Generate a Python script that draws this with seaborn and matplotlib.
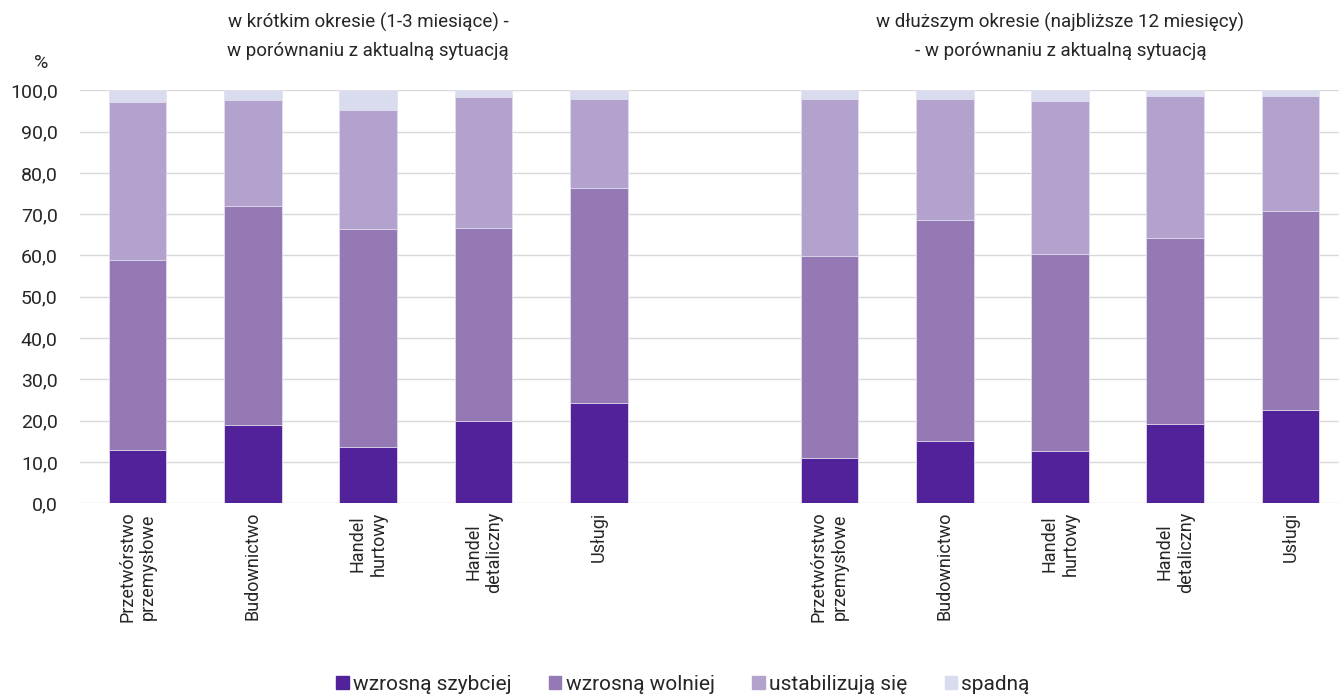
import numpy as np
import pandas as pd
import matplotlib
matplotlib.use("Agg")
import matplotlib.pyplot as plt
import matplotlib.patches as mpatches
import seaborn as sns

# kategorie (krótki okres, potem dłuższy okres)
kategorie = ["Przetwórstwo\nprzemysłowe", "Budownictwo", "Handel\nhurtowy",
             "Handel\ndetaliczny", "Usługi"]
serie = ["wzrosną szybciej", "wzrosną wolniej", "ustabilizują się", "spadną"]

# udział (%) - krótki okres
krotki_szybciej = [12.8, 19.0, 13.6, 19.9, 24.3]
krotki_wolniej = [46.0, 52.9, 52.7, 46.7, 52.0]
krotki_stabil = [38.4, 25.7, 28.9, 31.8, 21.5]
krotki_spadna = [2.8, 2.4, 4.8, 1.6, 2.2]

# udział (%) - dłuższy okres
dluzszy_szybciej = [11.0, 15.1, 12.7, 19.2, 22.5]
dluzszy_wolniej = [48.8, 53.4, 47.6, 45.0, 48.2]
dluzszy_stabil = [38.2, 29.3, 37.0, 34.4, 28.0]
dluzszy_spadna = [2.0, 2.2, 2.7, 1.4, 1.3]

kolory = ["#51229a", "#9579b5", "#b3a2ce", "#d9dbef"]

tytul_k = "w krótkim okresie (1-3 miesiące) -\nw porównaniu z aktualną sytuacją"
tytul_d = "w dłuższym okresie (najbliższe 12 miesięcy)\n- w porównaniu z aktualną sytuacją"

sns.set_theme(style="white")
plt.rcParams['font.family'] = ['Roboto', 'DejaVu Sans']

klucze = ["k%d" % i for i in range(5)] + ["gap"] + ["d%d" % i for i in range(5)]
etykiety = kategorie + [""] + kategorie

warstwy_k = np.array([krotki_szybciej, krotki_wolniej, krotki_stabil, krotki_spadna])
warstwy_d = np.array([dluzszy_szybciej, dluzszy_wolniej, dluzszy_stabil, dluzszy_spadna])
cum_k = np.cumsum(warstwy_k, axis=0)
cum_d = np.cumsum(warstwy_d, axis=0)

rows = []
for j in range(4):
    for i in range(5):
        rows.append({"key": "k%d" % i, "seria": serie[j], "cum": cum_k[j, i]})
        rows.append({"key": "d%d" % i, "seria": serie[j], "cum": cum_d[j, i]})
df = pd.DataFrame(rows)

fig = plt.figure(figsize=(13.39, 6.95), dpi=100)
ax = fig.add_axes([0.0597, 0.276, 0.9403, 0.594])

# rysujemy od góry stosu w dół
for j in range(3, -1, -1):
    sub = df[df["seria"] == serie[j]]
    sns.barplot(data=sub, x="key", y="cum", order=klucze, color=kolory[j],
                width=0.5, edgecolor="#e4e0ee", linewidth=0.6, ax=ax,
                saturation=1, zorder=2)

ax.set_ylim(0, 100)
ax.set_xlim(-0.5, 10.42)
ax.set_yticks(np.arange(0, 101, 10))
ax.set_yticklabels([("%.1f" % v).replace(".", ",") for v in np.arange(0, 101, 10)],
                   fontsize=14)
ax.set_xticks(range(len(klucze)))
ax.set_xticklabels(etykiety, rotation=90, fontsize=13, ha="center", va="top",
                   multialignment="center")
ax.tick_params(axis="y", length=0, pad=16)
ax.tick_params(axis="x", length=0, pad=6)
ax.set_xlabel("")
ax.set_ylabel("")
ax.grid(axis="y", color="#d9d9d9", linewidth=1, zorder=0)
for s in ax.spines.values():
    s.set_visible(False)

fig.text(0.031, 0.91, "%", fontsize=14, ha="center", va="center")
fig.text(0.275, 0.948, tytul_k, fontsize=13.5, ha="center", va="center",
         linespacing=1.7)
fig.text(0.792, 0.948, tytul_d, fontsize=13.5, ha="center", va="center",
         linespacing=1.7)

uchwyty = [mpatches.Patch(color=kolory[j], label=serie[j]) for j in range(4)]
fig.legend(handles=uchwyty, loc="lower center", bbox_to_anchor=(0.51, -0.025),
           ncol=4, frameon=False, fontsize=15, handlelength=0.6,
           handleheight=0.6, handletextpad=0.2, columnspacing=1.8)

fig.savefig("out.png", dpi=100)
